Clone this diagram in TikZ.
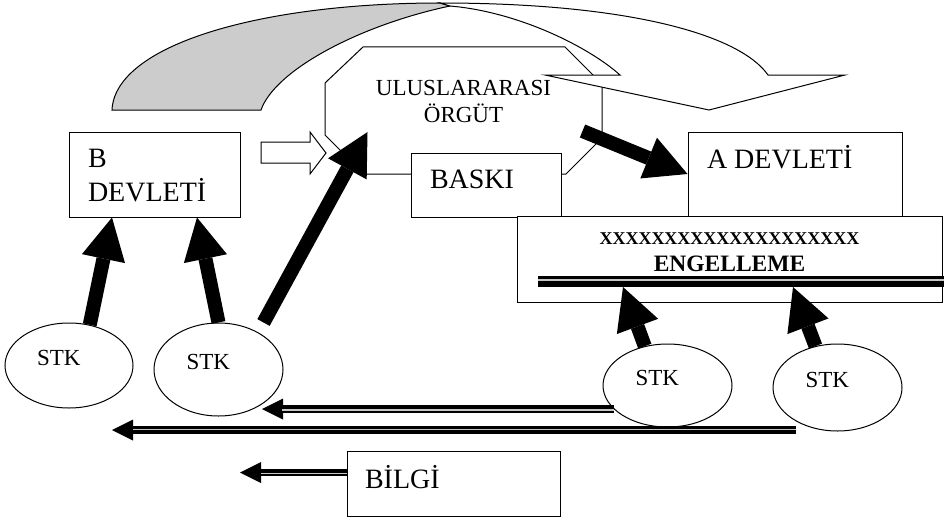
\documentclass[tikz,border=0pt]{standalone}
\usepackage{fontspec}
\setmainfont{Liberation Serif}
\usetikzlibrary{arrows.meta,shapes.geometric,calc}
\begin{document}
\begin{tikzpicture}[x=1pt,y=-1pt,
  line width=1pt,
  box/.style={draw, fill=white, rectangle, inner ysep=0pt, align=flush left},
  stk/.style={draw, fill=white, ellipse, inner sep=0pt, text width=64pt,
    text height=0pt, text depth=0pt, align=flush left,
    font=\fontsize{23}{27}\selectfont},
  blk/.style={line width=14pt,
    -{Triangle[length=42pt 0 1, width=44pt 0 1, line width=0pt 0 0]}},
  dbl/.style={line width=7.5pt,
    -{Triangle[length=21pt 0 1, width=21pt 0 1, line width=0pt 0 0]}},
  stripe/.style={draw=gray!45, line width=1.5pt},
]
\useasboundingbox (0,0) rectangle (944,519);
\fill[white] (0,0) rectangle (944,519);

% octagon of the international organisation
\draw[fill=white] (363,47) -- (565,47) -- (602,84) -- (602,138) -- (566,174)
  -- (364,174) -- (325,135) -- (325,83) -- cycle;

% curved block arrow on top
\draw[fill=gray!40] (112,110) .. controls (115,45) and (260,3) .. (440,3)
  -- (450,6) .. controls (360,25) and (275,70) .. (261,110) -- cycle;
\draw[fill=white] (440,3) .. controls (630,3) and (740,35) .. (768,75)
  -- (845,75) -- (709,110) -- (545,75) -- (620,75)
  .. controls (590,48) and (520,12) .. (450,6) -- cycle;

\node[inner xsep=10pt, inner ysep=0pt, text width=257pt, align=center,
  text height=48pt, text depth=79pt, font=\fontsize{23}{28}\selectfont]
  (org) at (463.5,110.5) {ULUSLARARASI\\ÖRGÜT};

% hollow arrow
\draw[fill=white] (261,142) -- (310,142) -- (310,132) -- (326,153)
  -- (310,174) -- (310,163) -- (261,163) -- cycle;

% boxes
\node[box, minimum width=171pt, minimum height=85pt, text width=133pt,
  inner xsep=19pt, text height=35pt, text depth=50pt,
  font=\fontsize{28}{34}\selectfont] (bdev) at (154.5,174.5) {B\\DEVLETİ};
\node[box, minimum width=150pt, minimum height=64pt, text width=112pt,
  inner xsep=19pt, text height=35pt, text depth=29pt,
  font=\fontsize{28}{34}\selectfont] (baski) at (486,185) {BASKI};
\node[box, minimum width=214pt, minimum height=84pt, text width=176pt,
  inner xsep=19pt, text height=36pt, text depth=48pt,
  font=\fontsize{28}{34}\selectfont] (adev) at (795,174) {A DEVLETİ};
\node[box, align=center, minimum width=425pt, minimum height=86pt,
  text width=415pt, inner xsep=5pt, text height=28pt, text depth=58pt,
  font=\fontsize{23.5}{27}\selectfont\bfseries] (eng) at (729.5,259)
  {{\fontsize{18}{20}\selectfont XXXXXXXXXXXXXXXXXXXX}\\ENGELLEME};
\node[box, minimum width=213pt, minimum height=65pt, text width=177pt,
  inner xsep=18pt, text height=37pt, text depth=28pt,
  font=\fontsize{28}{34}\selectfont] (bilgi) at (453.5,483.5) {BİLGİ};

% blocking double bar
\fill (538,276) rectangle (944,279);
\fill[gray!45] (538,279) rectangle (944,281);
\fill (538,281) rectangle (944,287);

% STK ellipses
\node[stk, minimum width=128pt, minimum height=85pt] (s1) at (69,365.5) {STK};
\node[stk, minimum width=129pt, minimum height=93pt] (s2) at (218.5,369.5) {STK};
\node[stk, minimum width=129pt, minimum height=83pt] (s3) at (667.5,385.5) {STK};
\node[stk, minimum width=129pt, minimum height=87pt] (s4) at (837.5,387.5) {STK};

% thick black arrows
\draw[blk] (s1.63) -- ([xshift=-42.5pt]bdev.south);
\draw[blk] (s2.north) -- ([xshift=42.5pt]bdev.south);
\draw[blk] ([xshift=45pt]s2.north) -- ([xshift=43pt,yshift=-21.5pt]org.west);
\draw[blk] ([xshift=-20pt,yshift=-20.5pt]org.east) -- (adev.west);
\draw[blk] (s3.120) -- ([xshift=-106.5pt,yshift=-28pt]eng.center);
\draw[blk] (s4.118) -- ([xshift=63.5pt,yshift=-28pt]eng.center);

% double-line arrows
\coordinate (aTip) at (262,409);
\draw[dbl] (aTip -| s3.204) -- (aTip);
\draw[stripe] ($(aTip -| s3.204)+(0,1)$) -- ($(aTip)+(20,1)$);

\coordinate (bR) at (796,430);
\coordinate (bL) at (112,430);
\draw[dbl] (bR) -- (bL);
\draw[stripe] ($(bR)+(0,-0.5)$) -- ($(bL)+(21,-0.5)$);

\coordinate (cTip) at (240,472.5);
\draw[dbl] (cTip -| bilgi.west) -- (cTip);
\draw[stripe] ($(cTip -| bilgi.west)+(0,1)$) -- ($(cTip)+(21,1)$);
\end{tikzpicture}
\end{document}
